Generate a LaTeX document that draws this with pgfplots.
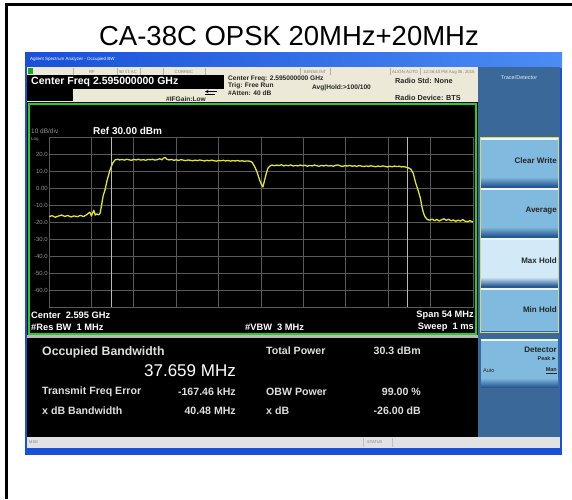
\documentclass[border=0pt]{standalone}
\usepackage{pgfplots}
\pgfplotsset{compat=1.18}
\usepackage{fontspec}
\setmainfont{Liberation Sans}
\definecolor{winblue}{RGB}{25,80,215}
\definecolor{winblue2}{RGB}{75,140,245}
\definecolor{cream}{RGB}{236,233,216}
\definecolor{panelblue}{RGB}{58,104,152}
\definecolor{btnblue}{RGB}{128,186,222}
\definecolor{btnlight}{RGB}{210,234,248}
\definecolor{btndark}{RGB}{40,90,146}
\definecolor{scrgreen}{RGB}{40,205,40}
\definecolor{gridgray}{RGB}{88,88,88}
\definecolor{markgray}{RGB}{185,185,185}
\definecolor{traceyellow}{RGB}{228,228,40}
\definecolor{statusgray}{RGB}{226,226,226}
\definecolor{labelgray}{RGB}{150,150,150}
\definecolor{txtlight}{RGB}{222,222,222}
\definecolor{btnborder}{RGB}{215,215,120}
\begin{document}
\begin{tikzpicture}
\begin{scope}[x=1pt,y=-1pt]
\path[use as bounding box, fill=white] (0,0) rectangle (572,499);
% table cell borders
\fill[black] (5,2.5) rectangle (572,5.5);
\fill[black] (5,2.5) rectangle (8,499);
\node[anchor=base, inner sep=0pt, font=\fontsize{27.5}{30}\selectfont] at (289,45) {CA-38C OPSK 20MHz+20MHz};
% window frame
\fill[winblue] (25,52) rectangle (562,455);
\shade[left color=winblue, right color=winblue2] (25,52) rectangle (562,67);
\node[anchor=west, text=white, inner sep=0pt, font=\fontsize{4.5}{5}\selectfont] at (30,59.5) {Agilent Spectrum Analyzer - Occupied BW};
% header
\fill[cream] (27,67) rectangle (478,102);
\fill[scrgreen!80!black] (28,68) rectangle (33,74);
\foreach \xx in {73,117,140,163,205,300,330,390,420} \draw[gray!60, line width=0.5pt] (\xx,67.5) -- (\xx,74.5);
\begin{scope}[every node/.style={inner sep=0pt, text=gray, font=\fontsize{4.3}{5}\selectfont}]
\node[anchor=base] at (92,73) {RF};
\node[anchor=base] at (128,73) {50 $\Omega$ AC};
\node[anchor=base] at (184,73) {CORREC};
\node[anchor=base] at (315,73) {SENSE:INT};
\node[anchor=base] at (405,73) {ALIGN AUTO};
\node[anchor=base] at (449,73) {12:36:40 PM Aug 06, 2015};
\end{scope}
\fill[black] (27,75) rectangle (224,89);
\node[anchor=west, inner sep=0pt, text=white, font=\bfseries\fontsize{10.5}{12}\selectfont] at (31,82) {Center Freq 2.595000000 GHz};
\fill[black] (27,89) rectangle (73,101);
\begin{scope}[every node/.style={inner sep=0pt, text=black!85, font=\bfseries\fontsize{6.6}{7}\selectfont}]
\node[anchor=west] at (228,78.5) {Center Freq: 2.595000000 GHz};
\node[anchor=west] at (228,86) {Trig: Free Run};
\node[anchor=west] at (228,93.5) {\#Atten: 40 dB};
\node[anchor=west] at (312,88) {Avg|Hold:>100/100};
\node[anchor=west] at (166,99) {\#IFGain:Low};
\node[anchor=west, font=\bfseries\fontsize{7.3}{8}\selectfont] at (395,81) {Radio Std: None};
\node[anchor=west, font=\bfseries\fontsize{7.3}{8}\selectfont] at (395,98) {Radio Device: BTS};
\end{scope}
\draw[black, line width=0.6pt, -stealth] (217,91.5) -- (205,91.5);
\draw[black, line width=0.6pt] (205,94) -- (215,94);
% graph area
\fill[black] (27,102) rectangle (478,335);
\draw[scrgreen, line width=2pt] (28.5,103.5) rectangle (476,333.5);
\node[anchor=west, inner sep=0pt, text=labelgray, font=\fontsize{6.5}{7}\selectfont] at (31,131) {10 dB/div};
\node[anchor=west, inner sep=0pt, text=labelgray, font=\fontsize{4.5}{5}\selectfont] at (31,139) {Log};
\node[anchor=west, inner sep=0pt, text=white, font=\bfseries\fontsize{10}{11}\selectfont] at (93,130.5) {Ref 30.00 dBm};
\begin{scope}[every node/.style={inner sep=0pt, text=white, font=\bfseries\fontsize{9.3}{10}\selectfont}]
\node[anchor=west] at (31,315.5) {Center\ \ 2.595 GHz};
\node[anchor=west] at (31,327.5) {\#Res BW\ \ 1 MHz};
\node[anchor=west] at (245,327.5) {\#VBW\ \ 3 MHz};
\node[anchor=east] at (474,315.5) {Span 54 MHz};
\node[anchor=east] at (474,327.5) {Sweep\ \ 1 ms};
\end{scope}
\fill[gray!55] (27,335) rectangle (478,338);
% bottom results panel
\fill[black] (27,338) rectangle (478,437);
\begin{scope}[every node/.style={inner sep=0pt, text=txtlight, font=\bfseries\fontsize{10.6}{12}\selectfont}]
\node[anchor=west, font=\bfseries\fontsize{12.3}{14}\selectfont] at (42,352) {Occupied Bandwidth};
\node[anchor=east, text=white, font=\fontsize{17}{19}\selectfont] at (236,371) {37.659 MHz};
\node[anchor=west] at (266,351) {Total Power};
\node[anchor=east] at (421,351) {30.3 dBm};
\node[anchor=west] at (42,392) {Transmit Freq Error};
\node[anchor=east] at (236,392) {-167.46 kHz};
\node[anchor=west] at (266,392) {OBW Power};
\node[anchor=east] at (421,392) {99.00 \%};
\node[anchor=west] at (42,411) {x dB Bandwidth};
\node[anchor=east] at (236,411) {40.48 MHz};
\node[anchor=west] at (266,411) {x dB};
\node[anchor=east] at (421,411) {-26.00 dB};
\end{scope}
% right softkey panel
\fill[panelblue] (478,67) rectangle (560,437);
\node[anchor=center, inner sep=0pt, text=white!90!blue, font=\fontsize{5.5}{6}\selectfont] at (519,78) {Trace/Detector};
\foreach \ya/\yb/\col/\lab in {138/188/btnblue/Clear Write, 188/238/btnblue/Average, 238/288/btnlight/Max Hold}{
  \fill[\col] (481,\ya) rectangle (558,\yb);
  \shade[top color=\col, bottom color=btndark] (481,\yb-11) rectangle (558,\yb-2);
  \fill[btndark] (481,\yb-2) rectangle (558,\yb);
  \fill[white!85!btnblue] (481,\ya) rectangle (558,\ya+1.5);
  \node[anchor=east, inner sep=0pt, text=black!85, font=\bfseries\fontsize{8}{9}\selectfont] at (557,\ya+23) {\lab};
}
\fill[btnblue] (481,288) rectangle (558,331);
\fill[white!85!btnblue] (481,288) rectangle (558,289.5);
\node[anchor=east, inner sep=0pt, text=black!85, font=\bfseries\fontsize{8}{9}\selectfont] at (557,310) {Min Hold};
\draw[btnborder, line width=0.8pt] (480.5,137) rectangle (558.5,332);
% detector key
\fill[btnblue] (481,339) rectangle (558,387);
\fill[white!85!btnblue] (481,339) rectangle (558,341);
\shade[top color=btnblue, bottom color=btndark] (481,378) rectangle (558,387);
\node[anchor=east, inner sep=0pt, text=black!85, font=\bfseries\fontsize{8}{9}\selectfont] at (557,350) {Detector};
\node[anchor=east, inner sep=0pt, text=black!85, font=\bfseries\fontsize{5.5}{6}\selectfont] at (557,359) {Peak\,►};
\node[anchor=west, inner sep=0pt, text=black!85, font=\fontsize{5.5}{6}\selectfont] at (483,371) {Auto};
\node[anchor=east, inner sep=0pt, text=black!85, font=\bfseries\fontsize{5.5}{6}\selectfont] at (557,371) {\underline{Man}};
% status bar
\fill[statusgray] (27,437) rectangle (560,448);
\draw[gray!50, line width=0.5pt] (363,438) -- (363,447) (392,438) -- (392,447);
\node[anchor=west, inner sep=0pt, text=gray, font=\fontsize{4}{5}\selectfont] at (29,442.5) {MSG};
\node[anchor=west, inner sep=0pt, text=gray, font=\fontsize{4}{5}\selectfont] at (367,442.5) {STATUS};
\end{scope}
\begin{axis}[
  at={(49pt,-307pt)}, anchor=south west,
  width=424pt, height=170pt, scale only axis,
  xmin=-27, xmax=27, ymin=-70, ymax=30,
  axis background/.style={fill=black},
  axis line style={draw=gridgray, line width=0.9pt},
  xtick={-21.6,-16.2,-10.8,-5.4,0,5.4,10.8,16.2,21.6},
  xticklabels={},
  ytick={-60,-50,-40,-30,-20,-10,0,10,20},
  yticklabels={-60.0,-50.0,-40.0,-30.0,-20.0,-10.0,0.00,10.0,20.0},
  major tick length=0pt,
  grid=major,
  grid style={draw=gridgray, line width=0.9pt},
  yticklabel style={font=\fontsize{6}{7}\selectfont, text=labelgray, inner sep=1pt},
]
\addplot[draw=markgray, line width=0.9pt] coordinates {(-19.0,-70) (-19.0,30)};
\addplot[draw=markgray, line width=0.9pt] coordinates {(18.66,-70) (18.66,30)};
\addplot[traceyellow, line width=1.3pt, line join=round] coordinates {
(-27.0,-16.8) (-26.6,-16.3) (-26.2,-17.2) (-25.8,-16.5) (-25.4,-15.9) (-25.0,-16.7)
(-24.6,-16.2) (-24.2,-17.0) (-23.8,-16.4) (-23.4,-16.9) (-23.0,-16.1) (-22.6,-16.8)
(-22.2,-15.7) (-21.8,-14.2) (-21.6,-16.5) (-21.3,-13.1) (-21.1,-15.9) (-20.9,-15.2)
(-20.7,-15.8) (-20.5,-15.0) (-20.3,-10.0) (-20.1,-4.5) (-19.87,-1.2) (-19.6,4.5)
(-19.23,10.6) (-18.9,14.5) (-18.6,16.5) (-18.3,16.9) (-18.0,16.5) (-17.7,16.8)
(-17.4,16.4) (-17.1,16.9) (-16.8,16.6) (-16.5,16.3) (-16.2,16.8) (-15.9,16.5)
(-15.6,16.9) (-15.3,16.4) (-15.0,16.7) (-14.7,16.3) (-14.4,16.8) (-14.1,16.6)
(-13.8,16.9) (-13.5,16.4) (-13.2,16.7) (-12.9,17.2) (-12.6,16.6) (-12.4,17.6)
(-12.2,18.0) (-12.0,16.9) (-11.7,16.5) (-11.4,16.8) (-11.1,16.3) (-10.8,16.6)
(-10.5,16.2) (-10.2,16.7) (-9.9,16.4) (-9.6,16.1) (-9.3,16.5) (-9.0,16.3)
(-8.7,16.0) (-8.4,16.4) (-8.1,16.1) (-7.8,16.5) (-7.5,16.2) (-7.2,15.9)
(-6.9,16.3) (-6.6,16.0) (-6.3,16.4) (-6.0,16.1) (-5.7,15.8) (-5.4,16.2)
(-5.1,16.0) (-4.8,16.3) (-4.5,15.9) (-4.2,16.2) (-3.9,15.8) (-3.6,16.1)
(-3.3,15.9) (-3.0,16.2) (-2.7,15.8) (-2.4,16.0) (-2.1,15.7) (-1.8,15.9)
(-1.5,15.8) (-1.15,15.3) (-0.8,12.5) (-0.5,9.4) (-0.2,5.0) (0.05,2.2)
(0.25,0.6) (0.45,4.5) (0.7,9.0) (0.9,11.8) (1.15,13.0) (1.4,13.5)
(1.7,13.1) (2.0,13.5) (2.3,13.2) (2.6,13.7) (2.9,13.0) (3.2,13.4)
(3.5,13.1) (3.8,13.6) (4.1,12.9) (4.4,13.3) (4.7,13.0) (5.0,13.5)
(5.3,13.1) (5.6,13.4) (5.9,12.8) (6.2,13.3) (6.5,13.0) (6.8,13.5)
(7.1,13.1) (7.4,12.8) (7.7,13.3) (8.0,13.0) (8.3,13.4) (8.6,12.9)
(8.9,13.2) (9.2,12.8) (9.5,13.3) (9.8,13.6) (10.1,13.0) (10.4,12.7)
(10.7,13.2) (11.0,12.9) (11.3,13.3) (11.6,12.8) (11.9,13.1) (12.2,12.7)
(12.5,13.2) (12.8,12.9) (13.1,12.6) (13.4,13.0) (13.7,12.7) (14.0,13.1)
(14.3,12.8) (14.6,12.5) (14.9,12.9) (15.2,12.6) (15.5,13.0) (15.8,12.7)
(16.1,12.4) (16.4,12.8) (16.7,12.5) (17.0,12.9) (17.3,12.6) (17.6,12.8)
(17.9,12.4) (18.2,12.6) (18.5,12.2) (18.8,11.8) (19.1,11.0) (19.4,8.5)
(19.7,3.0) (20.0,-1.2) (20.3,-6.0) (20.5,-11.2) (20.7,-14.8) (20.9,-17.0)
(21.2,-18.6) (21.5,-18.9) (21.8,-18.3) (22.1,-19.2) (22.4,-18.5) (22.7,-19.4)
(23.0,-18.7) (23.3,-18.1) (23.6,-19.0) (23.9,-18.4) (24.2,-19.3) (24.5,-18.8)
(24.8,-19.6) (25.1,-18.9) (25.4,-19.4) (25.7,-18.6) (26.0,-19.5) (26.3,-19.8)
(26.6,-19.2) (27.0,-20.0)
};
\end{axis}
\end{tikzpicture}
\end{document}
